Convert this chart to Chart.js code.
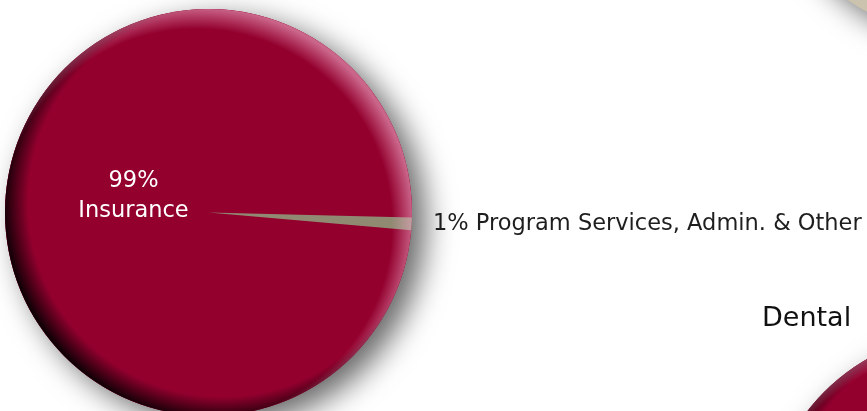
<!DOCTYPE html>
<html>
<head>
<meta charset="utf-8">
<script src="https://cdn.jsdelivr.net/npm/chart.js@4"></script>
<style>
  html, body { margin: 0; padding: 0; background: #fff; }
  body { width: 867px; height: 411px; overflow: hidden; position: relative; font-family: "DejaVu Sans", sans-serif; }
  .box { position: absolute; }
  .heading { position: absolute; color: #111; white-space: nowrap; }
</style>
</head>
<body>
<div class="heading" style="left:-8px; top:-23px; font-size:26px; line-height:26px; font-weight:200; color:#333;">Health</div>
<div class="box" style="left:730px; top:-401px; width:467px; height:467px;"><canvas id="visionPie"></canvas></div>
<div class="box" style="left:735px; top:302px; width:467px; height:467px;"><canvas id="dentalPie"></canvas></div>
<div class="heading" style="left:762px; top:297px; font-size:27px; line-height:40px;">Dental</div>
<div class="box" style="left:-25px; top:-21px; width:900px; height:467px;"><canvas id="healthPie"></canvas></div>

<script>
// Health plan revenue split
const kategoriler = ['Insurance', 'Program Services, Admin. & Other'];
const yuzdeler = [99, 1];
const renkler = ['#93002e', '#918a73'];

// neighbouring pies, only partly visible in the crop
const dentalKategoriler = ['Insurance'];
const dentalYuzdeler = [100];
const visionKategoriler = ['Program Services, Admin. & Other'];
const visionYuzdeler = [100];

const yaziFont = '"DejaVu Sans"';

// shadow + lens shading round the pie
function lensPlugin(tabanRenk, koyuluk, parlaklik) {
    return {
        id: 'lens',
        beforeDatasetsDraw(chart) {
            let arc = chart.getDatasetMeta(0).data[0];
            if (!arc) return;
            let ctx = chart.ctx;
            ctx.save();
            ctx.shadowColor = 'rgba(0,0,0,0.6)';
            ctx.shadowBlur = 30;
            ctx.shadowOffsetX = 13;
            ctx.shadowOffsetY = 10;
            ctx.fillStyle = tabanRenk;
            ctx.beginPath();
            ctx.arc(arc.x, arc.y, arc.outerRadius, 0, Math.PI * 2);
            ctx.fill();
            ctx.restore();
        },
        afterDatasetsDraw(chart) {
            let arc = chart.getDatasetMeta(0).data[0];
            if (!arc) return;
            let ctx = chart.ctx;
            let x = arc.x, y = arc.y, r = arc.outerRadius;
            ctx.save();
            ctx.beginPath();
            ctx.arc(x, y, r, 0, Math.PI * 2);
            ctx.clip();
            // dark rim, strongest lower-left
            let koyu = ctx.createRadialGradient(x + 14, y - 10, r - 30, x + 14, y - 10, r + 16);
            koyu.addColorStop(0, 'rgba(0,0,0,0)');
            koyu.addColorStop(0.45, 'rgba(0,0,0,0)');
            koyu.addColorStop(1, 'rgba(0,0,0,' + koyuluk + ')');
            ctx.fillStyle = koyu;
            ctx.fillRect(x - r - 20, y - r - 20, 2 * r + 40, 2 * r + 40);
            // light rim, upper-right
            let acik = ctx.createRadialGradient(x - 12, y + 12, r - 8, x - 12, y + 12, r + 14);
            acik.addColorStop(0, 'rgba(240,170,200,0)');
            acik.addColorStop(1, 'rgba(240,170,200,' + parlaklik + ')');
            ctx.fillStyle = acik;
            ctx.fillRect(x - r - 20, y - r - 20, 2 * r + 40, 2 * r + 40);
            ctx.restore();
        }
    };
}

// slice labels
const etiketPlugin = {
    id: 'etiket',
    afterDraw(chart) {
        let arc = chart.getDatasetMeta(0).data[0];
        let ctx = chart.ctx;
        let x = arc.x, y = arc.y, r = arc.outerRadius;
        ctx.save();
        ctx.font = '22.5px ' + yaziFont;
        ctx.textAlign = 'center';
        ctx.textBaseline = 'middle';
        ctx.fillStyle = '#fff';
        ctx.fillText(yuzdeler[0] + '%', x - 75, y - 31);
        ctx.fillText(kategoriler[0], x - 75, y - 1);
        ctx.textAlign = 'left';
        ctx.fillStyle = '#1e1e1e';
        ctx.fillText(yuzdeler[1] + '% ' + kategoriler[1], x + r + 21, y + 12);
        ctx.restore();
    }
};

function pastaAyarlari(pad) {
    return {
        responsive: true,
        maintainAspectRatio: false,
        animation: false,
        events: [],
        rotation: 95,
        layout: { padding: pad },
        plugins: { legend: { display: false }, tooltip: { enabled: false } },
        elements: { arc: { borderWidth: 0, hoverOffset: 0 } }
    };
}

new Chart(document.getElementById('healthPie'), {
    type: 'pie',
    data: {
        labels: kategoriler,
        datasets: [{ data: yuzdeler, backgroundColor: renkler }]
    },
    options: pastaAyarlari({ left: 30, top: 30, bottom: 30, right: 463 }),
    plugins: [lensPlugin(renkler[0], 0.9, 0.6), etiketPlugin]
});

new Chart(document.getElementById('dentalPie'), {
    type: 'pie',
    data: {
        labels: dentalKategoriler,
        datasets: [{ data: dentalYuzdeler, backgroundColor: [renkler[0]] }]
    },
    options: pastaAyarlari(30),
    plugins: [lensPlugin(renkler[0], 0.9, 0.6)]
});

new Chart(document.getElementById('visionPie'), {
    type: 'pie',
    data: {
        labels: visionKategoriler,
        datasets: [{ data: visionYuzdeler, backgroundColor: ['#cbc3ad'] }]
    },
    options: pastaAyarlari(30),
    plugins: [lensPlugin('#cbc3ad', 0, 0)]
});
</script>
</body>
</html>
